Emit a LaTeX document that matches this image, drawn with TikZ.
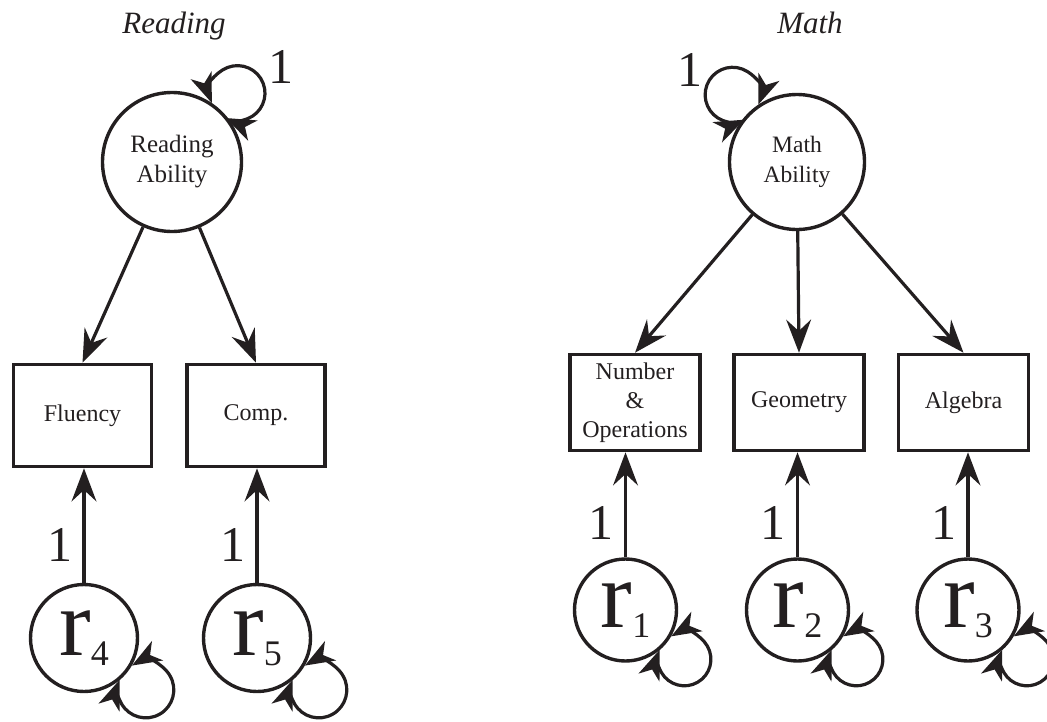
\documentclass[tikz,border=0pt]{standalone}
\usepackage{fontspec}
\setmainfont{Liberation Serif}
\usetikzlibrary{arrows.meta,positioning}
\definecolor{ink}{RGB}{35,31,32}
\newcommand{\rsub}[1]{r\raisebox{-10pt}{\fontsize{36}{36}\selectfont #1}}
\tikzset{latent/.style = {circle, draw=ink, line width=3.4pt, align=center, inner sep=0pt,
                          minimum size=#1, text=ink},
         latent/.default=137pt,
         obs/.style = {rectangle, draw=ink, line width=3.6pt, align=center, text=ink,
                       font=\fontsize{24}{29}\selectfont},
         resid/.style = {circle, draw=ink, line width=3.4pt, inner sep=0pt, minimum size=#1,
                         text=ink, font=\fontsize{95}{95}\selectfont},
         resid/.default=104pt,
         causal/.style = {draw=ink, line width=3.2pt,
                          arrows={-Stealth[scale=1.9, inset=6pt]}},
         twoway/.style = {draw=ink, line width=3.2pt,
                          arrows={Stealth[scale=1.7, inset=5pt]-Stealth[scale=1.7, inset=5pt]}},
         one/.style = {font=\fontsize{50}{50}\selectfont, text=ink, inner sep=0pt},
         title/.style = {font=\fontsize{31}{31}\selectfont\itshape, text=ink, anchor=base}
        }

\begin{document}
\begin{tikzpicture}[x=1pt,y=1pt]
  \useasboundingbox (0,0) rectangle (1047,-721);
  \node[title] (rt) at (174,-33) {Reading};
  \node[title] (mt) at (810,-33) {Math};

  \node[latent=139pt, font=\fontsize{25}{30}\selectfont] (ra) at (172,-162) {Reading\\Ability};
  \node[latent=135pt, font=\fontsize{23.5}{30}\selectfont] (ma) at (797,-162) {Math\\Ability};

  \node[obs, minimum width=138pt, minimum height=102pt] (fl) at (82.5,-415.5) {Fluency};
  \node[obs, minimum width=138pt, minimum height=102pt] (cp) at (256,-415.5) {Comp.};
  \node[obs, minimum width=130pt, minimum height=96pt] (no) at (635,-402.5) {Number\\\&\\Operations};
  \node[obs, minimum width=130pt, minimum height=96pt] (ge) at (799,-402.5) {Geometry};
  \node[obs, minimum width=130pt, minimum height=96pt] (al) at (963.5,-402.5) {Algebra};

  \node[resid=107pt] (r4) at (84,-638) {\rsub{4}};
  \node[resid=107pt] (r5) at (257,-638) {\rsub{5}};
  \node[resid=102pt] (r1) at (625.5,-610) {\rsub{1}};
  \node[resid=102pt] (r2) at (797.5,-610) {\rsub{2}};
  \node[resid=102pt] (r3) at (968,-610) {\rsub{3}};

  \draw[causal] (ra) -- (fl.north);
  \draw[causal] (ra) -- (cp.north);
  \draw[causal] (ma) -- (no.north);
  \draw[causal] (ma) -- (ge.north);
  \draw[causal] (ma) -- (al.north);

  \draw[causal] (r4) -- (r4 |- fl.south) node[one, pos=0.33, left=10pt] {1};
  \draw[causal] (r5) -- (r5 |- cp.south) node[one, pos=0.33, left=10pt] {1};
  \draw[causal] (r1) -- (r1 |- no.south) node[one, pos=0.33, left=10pt] {1};
  \draw[causal] (r2) -- (r2 |- ge.south) node[one, pos=0.33, left=10pt] {1};
  \draw[causal] (r3) -- (r3 |- al.south) node[one, pos=0.33, left=10pt] {1};

  \draw[twoway] (ra.56) arc[start angle=201, end angle=-115, radius=27.5];
  \draw[twoway] (ma.124) arc[start angle=-21, end angle=295, radius=27.5];
  \node[one] (ral) at (281,-67) {1};
  \node[one] (mal) at (690,-70) {1};

  \foreach \r in {r4,r5}
    \draw[twoway] (\r.-30) arc[start angle=120, end angle=-201, radius=28];
  \foreach \r in {r1,r2,r3}
    \draw[twoway] (\r.-30) arc[start angle=120, end angle=-201, radius=26.5];
\end{tikzpicture}
\end{document}
